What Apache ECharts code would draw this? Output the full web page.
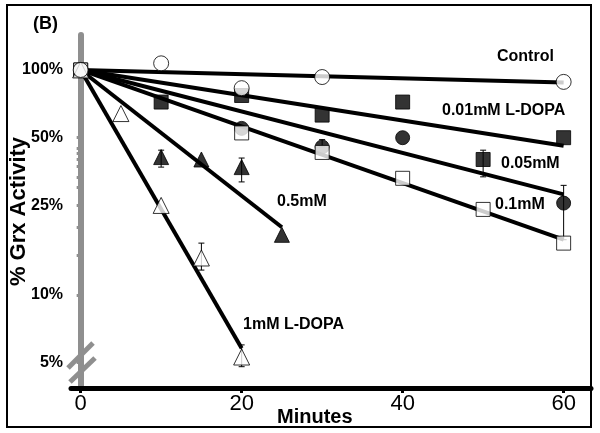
<!DOCTYPE html>
<html>
<head>
<meta charset="utf-8">
<script src="https://cdn.jsdelivr.net/npm/echarts@6/dist/echarts.min.js"></script>
<style>html,body{margin:0;padding:0;background:#fff;}#c{width:600px;height:433px;}</style>
</head>
<body>
<div id="c"></div>
<script>
// ---- data (x = minutes, y = % Grx activity) ----
const xTickValues = [0, 20, 40, 60];
const yLabelValues = [5, 10, 25, 50, 100];
const yTickValues = [5, 10, 15, 20, 25, 30, 33.5, 37.5, 40, 42.5, 45, 50, 100];

const control   = [[0, 100], [10, 107], [20, 83], [30, 93], [60, 88.5]];
const mM001     = [[0, 100], [10, 72], [20, 77], [30, 63], [40, 72], [60, 50]];
const mM005     = [[0, 100], [20, 55], [30, 45.5], [40, 50], [60, 25.6]];
const mM005sq   = [[50, 40]];
const mM01      = [[0, 100], [20, 52.5], [30, 43], [40, 33], [50, 24], [60, 17]];
const mM05      = [[0, 100], [10, 41], [15, 40], [20, 37], [25, 18.5]];
const mM1       = [[0, 100], [5, 64], [10, 25], [15, 14.6], [20, 5.3]];

const fitControl = [[0, 100], [60, 88]];
const fit001     = [[0, 100], [60, 46]];
const fit005     = [[0, 100], [60, 28]];
const fit01      = [[0, 100], [60, 17.6]];
const fit05      = [[0, 100], [25, 20]];
const fit1       = [[0, 100], [20, 5.8]];

// [x, low, high]
const errorBars = [[15, 12.9, 17.0], [20, 4.8, 6.0], [20, 31.8, 40.6], [10, 37, 44],
                   [60, 17.6, 30.7], [50, 33.5, 44], [30, 45.5, 49]];

const FONT = 'Liberation Sans, Arial, sans-serif';
const GRAY = '#8f8f8f';

function fitSeries(data) {
  return { type: 'line', data: data, symbol: 'none', z: 2, silent: true,
           lineStyle: { color: '#000', width: 4 } };
}
function markSeries(data, symbol, filled, size) {
  return { type: 'scatter', data: data, symbol: symbol, symbolSize: size || 14, z: 5,
           itemStyle: { color: filled ? '#000' : '#fff', borderColor: '#000', borderWidth: 1 } };
}

const chart = echarts.init(document.getElementById('c'));
chart.setOption({
  backgroundColor: '#fff',
  animation: false,
  grid: { left: 71, right: 9, top: 35, bottom: 45, containLabel: false, outerBoundsMode: 'none' },
  xAxis: {
    type: 'value', min: -1.2, max: 63.4,
    splitLine: { show: false },
    axisLine: { onZero: false, lineStyle: { color: '#000', width: 5 } },
    axisTick: { show: true, customValues: xTickValues, length: 5, inside: false, lineStyle: { color: '#000', width: 3 } },
    axisLabel: { customValues: xTickValues, margin: 5, fontFamily: FONT, fontSize: 22, color: '#000' }
  },
  yAxis: {
    type: 'log', logBase: 10, min: 3.86, max: 143,
    splitLine: { show: false },
    axisLine: { show: true, onZero: true, lineStyle: { color: GRAY, width: 6 } },
    axisTick: { show: true, customValues: yTickValues, length: 4, inside: false, lineStyle: { color: GRAY, width: 3 } },
    axisLabel: { customValues: yLabelValues, margin: 8, fontFamily: FONT, fontSize: 16, fontWeight: 'bold', color: '#000',
                 formatter: v => Math.round(v) + '%' },
    name: '% Grx Activity', nameLocation: 'middle', nameRotate: 90, nameGap: 41, nameMoveOverlap: false,
    nameTextStyle: { fontFamily: FONT, fontSize: 22, fontWeight: 'bold', color: '#000' }
  },
  series: [
    fitSeries(fitControl), fitSeries(fit001), fitSeries(fit005),
    fitSeries(fit01), fitSeries(fit05), fitSeries(fit1),
    {
      type: 'custom', z: 4, data: errorBars, encode: { x: 0, y: [1, 2] },
      renderItem: function (params, api) {
        const x = api.value(0);
        const pLo = api.coord([x, api.value(1)]);
        const pHi = api.coord([x, api.value(2)]);
        const st = { stroke: '#000', lineWidth: 1 };
        return { type: 'group', children: [
          { type: 'line', shape: { x1: pLo[0], y1: pLo[1], x2: pHi[0], y2: pHi[1] }, style: st },
          { type: 'line', shape: { x1: pLo[0] - 3, y1: pLo[1], x2: pLo[0] + 3, y2: pLo[1] }, style: st },
          { type: 'line', shape: { x1: pHi[0] - 3, y1: pHi[1], x2: pHi[0] + 3, y2: pHi[1] }, style: st }
        ]};
      }
    },
    markSeries(mM005, 'circle', true, 14),
    markSeries(mM005sq, 'rect', true, 14),
    markSeries(mM001, 'rect', true, 14),
    markSeries(mM01, 'rect', false, 14),
    markSeries(mM05, 'triangle', true, 15),
    markSeries(mM1, 'triangle', false, 16),
    markSeries(control, 'circle', false, 15)
  ],
  graphic: [
    { type: 'rect', shape: { x: 7, y: 5, width: 584, height: 422 }, style: { fill: 'none', stroke: '#000', lineWidth: 2 }, z: 0 },
    { type: 'line', shape: { x1: 68, y1: 368, x2: 93, y2: 343 }, style: { stroke: GRAY, lineWidth: 5 }, z: 10 },
    { type: 'line', shape: { x1: 70, y1: 382, x2: 95, y2: 358 }, style: { stroke: GRAY, lineWidth: 5 }, z: 10 },
    { type: 'text', left: 33, top: 15, style: { text: '(B)', font: 'bold 18px ' + FONT, fill: '#000' } },
    { type: 'text', left: 277, top: 407, style: { text: 'Minutes', font: 'bold 20px ' + FONT, fill: '#000' } },
    { type: 'text', left: 497, top: 49, style: { text: 'Control', font: 'bold 16px ' + FONT, fill: '#000' } },
    { type: 'text', left: 442, top: 103, style: { text: '0.01mM L-DOPA', font: 'bold 16px ' + FONT, fill: '#000' } },
    { type: 'text', left: 501, top: 156, style: { text: '0.05mM', font: 'bold 16px ' + FONT, fill: '#000' } },
    { type: 'text', left: 495, top: 197, style: { text: '0.1mM', font: 'bold 16px ' + FONT, fill: '#000' } },
    { type: 'text', left: 277, top: 194, style: { text: '0.5mM', font: 'bold 16px ' + FONT, fill: '#000' } },
    { type: 'text', left: 243, top: 317, style: { text: '1mM L-DOPA', font: 'bold 16px ' + FONT, fill: '#000' } }
  ]
});
</script>
</body>
</html>
